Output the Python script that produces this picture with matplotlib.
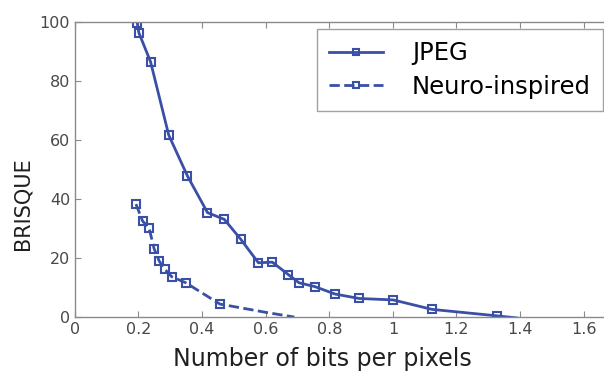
import matplotlib
matplotlib.use("Agg")
import matplotlib.pyplot as plt

# JPEG rate / quality curve (last point has no marker, runs into the x axis)
jpeg_bpp = [0.196, 0.201, 0.238, 0.295, 0.354, 0.417, 0.470, 0.522, 0.577,
            0.621, 0.671, 0.705, 0.755, 0.818, 0.894, 1.001, 1.123, 1.328, 1.39]
jpeg_brisque = [99.8, 96.4, 86.5, 61.7, 47.8, 35.4, 33.1, 26.3, 18.4,
                18.6, 14.4, 11.6, 10.3, 7.8, 6.3, 5.8, 2.6, 0.4, -0.3]

# Neuro-inspired codec (markers only on the measured points)
neuro_bpp = [0.192, 0.213, 0.233, 0.249, 0.265, 0.282, 0.304, 0.349, 0.456, 0.60, 0.69]
neuro_brisque = [38.3, 32.5, 30.3, 23.2, 19.0, 16.3, 13.7, 11.6, 4.4, 1.6, 0.0]

blue = "#3a4fa6"

fig = plt.figure(figsize=(6.04, 3.73), dpi=100)
ax = fig.add_axes([0.124, 0.150, 0.895, 0.791])

ax.plot(jpeg_bpp, jpeg_brisque, "-", color=blue, lw=2,
        marker="s", ms=5.5, mfc="none", mew=1.5, mec=blue,
        markevery=list(range(len(jpeg_bpp) - 1)), label="JPEG")
ax.plot(neuro_bpp, neuro_brisque, "--", color=blue, lw=2,
        marker="s", ms=5.5, mfc="none", mew=1.5, mec=blue,
        markevery=list(range(len(neuro_bpp) - 2)), label="Neuro-inspired")

ax.set_xlim(0, 1.7)
ax.set_ylim(0, 100)
ax.set_xticks([0, 0.2, 0.4, 0.6, 0.8, 1, 1.2, 1.4, 1.6])
ax.set_xticklabels(["0", "0.2", "0.4", "0.6", "0.8", "1", "1.2", "1.4", "1.6"])
ax.set_yticks([0, 20, 40, 60, 80, 100])

for sp in ax.spines.values():
    sp.set_color("#8a8a8a")
    sp.set_linewidth(1)
ax.tick_params(direction="in", top=True, right=True, length=4,
               color="#8a8a8a", labelsize=11.5, labelcolor="#484848")

ax.set_xlabel("Number of bits per pixels", fontsize=17, color="#202020")
ax.xaxis.set_label_coords(0.457, -0.103)
ax.set_ylabel("BRISQUE", fontsize=15, color="#202020")
ax.yaxis.set_label_coords(-0.078, 0.383)

leg = ax.legend(loc="upper right", bbox_to_anchor=(0.977, 0.976), borderaxespad=0,
                fontsize=17.5, frameon=True, fancybox=False, edgecolor="#8a8a8a",
                handlelength=2.2, borderpad=0.5, labelspacing=0.4,
                handletextpad=1.2, markerscale=0.8)
leg.get_frame().set_linewidth(1)

fig.savefig("out.png", dpi=100)
